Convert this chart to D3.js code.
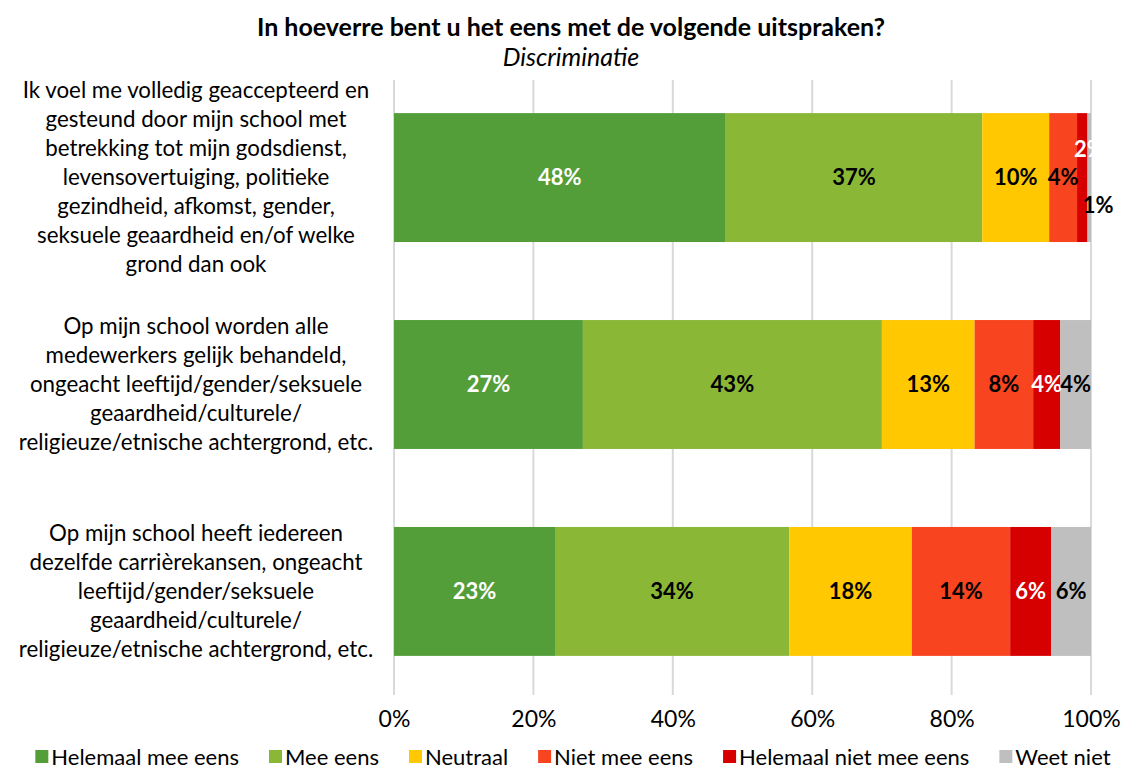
<!DOCTYPE html>
<html>
<head>
<meta charset="utf-8">
<script src="https://cdn.jsdelivr.net/npm/d3@7"></script>
<style>
  body { margin: 0; background: #fff; }
  svg { font-family: Lato, "Open Sans", sans-serif; }
</style>
</head>
<body>
<div id="chart"></div>
<script>
'use strict';

const title = "In hoeverre bent u het eens met de volgende uitspraken?";
const subtitle = "Discriminatie";

// each statement, broken into its lines as in the original
const categories = [
  ["Ik voel me volledig geaccepteerd en", "gesteund door mijn school met", "betrekking tot mijn godsdienst,",
   "levensovertuiging, politieke", "gezindheid, afkomst, gender,", "seksuele geaardheid en/of welke", "grond dan ook"],
  ["Op mijn school worden alle", "medewerkers gelijk behandeld,", "ongeacht leeftijd/gender/seksuele",
   "geaardheid/culturele/", "religieuze/etnische achtergrond, etc."],
  ["Op mijn school heeft iedereen", "dezelfde carrièrekansen, ongeacht", "leeftijd/gender/seksuele",
   "geaardheid/culturele/", "religieuze/etnische achtergrond, etc."]
];

const seriesNames = ["Helemaal mee eens", "Mee eens", "Neutraal", "Niet mee eens", "Helemaal niet mee eens", "Weet niet"];
const seriesColors = ["#549E39", "#8BB737", "#FFC800", "#F8441F", "#D60000", "#BFBFBF"];
const labelColors = ["#fff", "#000", "#000", "#000", "#fff", "#000"];

// percentages per statement, in series order
const helemaalMeeEens = [47.6, 27.1, 23.1];
const meeEens = [36.8, 42.9, 33.6];
const neutraal = [9.6, 13.3, 17.6];
const nietMeeEens = [4.0, 8.4, 14.1];
const helemaalNietMeeEens = [1.5, 3.9, 5.9];
const weetNiet = [0.5, 4.4, 5.7];

const tickValues = [0, 20, 40, 60, 80, 100];

const series = [helemaalMeeEens, meeEens, neutraal, nietMeeEens, helemaalNietMeeEens, weetNiet];

const width = 1122, height = 769;
const margin = { top: 80, right: 31, bottom: 74, left: 394 };

const svg = d3.select("#chart").append("svg")
  .attr("width", width)
  .attr("height", height);

const x = d3.scaleLinear()
  .domain([0, 100])
  .range([margin.left, width - margin.right]);

const y = d3.scaleBand()
  .domain(d3.range(categories.length))
  .range([margin.top, margin.top + 609])
  .paddingInner(0.377)
  .paddingOuter(0.16);

// stack the series
const rows = categories.map((c, i) => {
  let acc = 0;
  return series.map((s, k) => {
    const seg = { row: i, k: k, v: s[i], x0: acc, x1: acc + s[i] };
    acc += s[i];
    return seg;
  });
});

// title
svg.append("text")
  .attr("x", 571).attr("y", 36)
  .attr("text-anchor", "middle")
  .attr("font-size", 25).attr("font-weight", "bold")
  .text(title);

svg.append("text")
  .attr("x", 571).attr("y", 66)
  .attr("text-anchor", "middle")
  .attr("font-size", 25).attr("font-style", "italic")
  .text(subtitle);

// gridlines
svg.append("g")
  .selectAll("line")
  .data(tickValues)
  .enter()
  .append("line")
  .attr("x1", d => x(d)).attr("x2", d => x(d))
  .attr("y1", margin.top).attr("y2", height - margin.bottom)
  .attr("stroke", "#D9D9D9")
  .attr("stroke-width", 2);

// x axis labels
const xAxis = d3.axisBottom(x)
  .tickValues(tickValues)
  .tickFormat(d => d + "%")
  .tickSize(0)
  .tickPadding(0);

svg.append("g")
  .attr("transform", `translate(0, ${height - margin.bottom + 16})`)
  .call(xAxis)
  .call(g => g.select(".domain").remove())
  .call(g => g.selectAll("text")
    .attr("font-size", 23)
    .attr("font-family", "Lato, 'Open Sans', sans-serif")
    .attr("fill", "#000"));

// bars
const bars = svg.append("g")
  .selectAll("g")
  .data(rows)
  .enter()
  .append("g");

bars.selectAll("rect")
  .data(d => d)
  .enter()
  .append("rect")
  .attr("x", d => x(d.x0))
  .attr("y", d => y(d.row))
  .attr("width", d => x(d.x1) - x(d.x0))
  .attr("height", y.bandwidth())
  .attr("fill", d => seriesColors[d.k]);

// small segments get their label nudged off the bar centre
const nudge = (d) => {
  if (d.v >= 2.5) return { dx: 0, dy: 0 };
  return d.k === 4 ? { dx: 7, dy: -28 } : { dx: 9, dy: 28 };
};

bars.selectAll("text")
  .data(d => d)
  .enter()
  .append("text")
  .attr("x", d => (x(d.x0) + x(d.x1)) / 2 + nudge(d).dx)
  .attr("y", d => y(d.row) + y.bandwidth() / 2 + nudge(d).dy)
  .attr("dy", "0.35em")
  .attr("text-anchor", "middle")
  .attr("font-size", 22)
  .attr("font-weight", "bold")
  .attr("fill", d => labelColors[d.k])
  .text(d => Math.round(d.v) + "%");

// category labels
const catG = svg.append("g")
  .selectAll("text")
  .data(categories)
  .enter()
  .append("text")
  .attr("text-anchor", "middle")
  .attr("font-size", 22.3)
  .attr("fill", "#000");

const lineH = 29;
catG.each(function(lines, i) {
  const cy = y(i) + y.bandwidth() / 2;
  const startY = cy - (lines.length - 1) * lineH / 2;
  d3.select(this).selectAll("tspan")
    .data(lines)
    .enter()
    .append("tspan")
    .attr("x", 196)
    .attr("y", (d, j) => startY + j * lineH)
    .attr("dy", "0.35em")
    .text(d => d);
});

// legend
const legend = svg.append("g");
const items = legend.selectAll("g")
  .data(seriesNames)
  .enter()
  .append("g");

items.append("rect")
  .attr("width", 13).attr("height", 13)
  .attr("y", -7)
  .attr("fill", (d, i) => seriesColors[i]);

items.append("text")
  .attr("x", 16)
  .attr("dy", "0.35em")
  .attr("font-size", 22)
  .text(d => d);

const layoutLegend = () => {
  const gap = 30;
  let lx = 0;
  items.each(function() {
    d3.select(this).attr("transform", `translate(${lx}, 0)`);
    lx += this.getBBox().width + gap;
  });
  lx -= gap;
  legend.attr("transform", `translate(${573 - lx / 2}, 757)`);
};
layoutLegend();
if (document.fonts) document.fonts.ready.then(layoutLegend);
</script>
</body>
</html>
